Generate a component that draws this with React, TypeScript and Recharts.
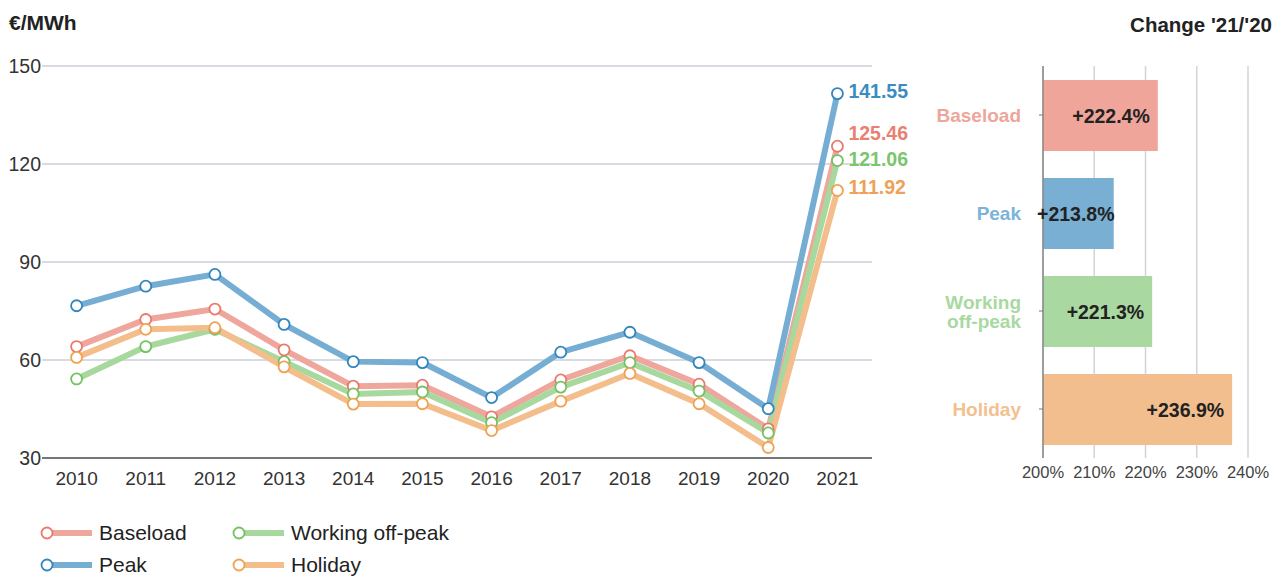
import {
  LineChart, Line, XAxis, YAxis, CartesianGrid, LabelList,
  BarChart, Bar, Cell,
} from 'recharts';

const years = ['2010', '2011', '2012', '2013', '2014', '2015', '2016', '2017', '2018', '2019', '2020', '2021'];
const baseload = [64.1, 72.4, 75.6, 63.1, 52.0, 52.3, 42.6, 53.9, 61.3, 52.6, 38.91, 125.46];
const peak = [76.6, 82.6, 86.2, 70.9, 59.5, 59.2, 48.5, 62.4, 68.5, 59.2, 45.11, 141.55];
const workingOffPeak = [54.2, 64.1, 69.4, 59.5, 49.6, 50.2, 40.8, 51.7, 59.2, 50.5, 37.68, 121.06];
const holiday = [60.8, 69.4, 69.9, 57.9, 46.5, 46.6, 38.4, 47.4, 55.9, 46.6, 33.22, 111.92];
const priceTicks = [30, 60, 90, 120, 150];
const yearBoundaries = [0, 1, 2, 3, 4, 5, 6, 7, 8, 9, 10, 11, 12];

const changeCategories = ['Baseload', 'Peak', 'Working off-peak', 'Holiday'];
const changeValues = [222.4, 213.8, 221.3, 236.9];
const changeTicks = [200, 210, 220, 230, 240];
const changeBoundaries = [0, 1, 2, 3, 4];

const FONT = '"Liberation Sans", Arial, sans-serif';

// styles per series (draw order = array order)
const series = [
  { key: 'baseload', name: 'Baseload', line: '#efa69c', dot: '#e97a6b', label: '#ea806f', bar: '#f0a59b', cat: '#eea59b', labelDy: -13 },
  { key: 'working', name: 'Working off-peak', line: '#a7d89d', dot: '#74c165', label: '#7bc66c', bar: '#a9d8a0', cat: '#a8d9a0', labelDy: -2 },
  { key: 'holiday', name: 'Holiday', line: '#f3be8c', dot: '#f0a152', label: '#f0a157', bar: '#f2be8d', cat: '#f3c08f', labelDy: -3 },
  { key: 'peak', name: 'Peak', line: '#76add3', dot: '#3286bf', label: '#3a8cc1', bar: '#78afd3', cat: '#7cb3d8', labelDy: -3 },
];
const seriesByName = (n: string) => series.find((s) => s.name === n)!;

const lineData = years.map((year, i) => ({
  year,
  baseload: baseload[i],
  peak: peak[i],
  working: workingOffPeak[i],
  holiday: holiday[i],
}));

const barData = changeCategories.map((name, i) => ({ name, value: changeValues[i] }));

const legendRows = [
  ['Baseload', 'Working off-peak'],
  ['Peak', 'Holiday'],
];

function EndLabel(props: any) {
  const { x, y, value, index, color, dy } = props;
  if (index !== years.length - 1) return null;
  return (
    <text x={x + 11} y={y + dy} dominantBaseline="central" fill={color}
      fontSize={19.5} fontWeight="bold" fontFamily={FONT}>
      {value}
    </text>
  );
}

// right-aligned inside the bar; short bars get the label pinned near the axis
function BarValueLabel(props: any) {
  const { x, y, width, height, value } = props;
  const short = width < 80;
  return (
    <text x={short ? x - 6 : x + width - 8} y={y + height / 2} textAnchor={short ? 'start' : 'end'}
      dominantBaseline="central" fill="#222" fontSize={19.5} fontWeight="bold" fontFamily={FONT}>
      {`+${Number(value).toFixed(1)}%`}
    </text>
  );
}

function CategoryTick(props: any) {
  const { x, y, payload } = props;
  const s = seriesByName(payload.value);
  const lines = payload.value === 'Working off-peak' ? ['Working', 'off-peak'] : [payload.value];
  const start = y - ((lines.length - 1) * 19) / 2;
  return (
    <text x={x} y={start} textAnchor="end" dominantBaseline="central" fill={s.cat}
      fontSize={19} fontWeight="bold" fontFamily={FONT}>
      {lines.map((l, i) => (
        <tspan key={l} x={x} y={start + i * 19}>{l}</tspan>
      ))}
    </text>
  );
}

function LegendIcon({ s }: { s: (typeof series)[number] }) {
  return (
    <svg width={58} height={16} style={{ display: 'block', flexShrink: 0 }}>
      <line x1={7} y1={8} x2={52} y2={8} stroke={s.line} strokeWidth={6} />
      <circle cx={7} cy={8} r={5.5} fill="#fff" stroke={s.dot} strokeWidth={1.8} />
    </svg>
  );
}

export default function App() {
  return (
    <div style={{ position: 'absolute', left: 0, top: 0, width: 1282, height: 578, background: '#fff', fontFamily: FONT }}>
      <div style={{ position: 'absolute', left: 9, top: 11, fontSize: 21, fontWeight: 'bold', color: '#222' }}>€/MWh</div>
      <div style={{ position: 'absolute', right: 10, top: 13, fontSize: 20.5, fontWeight: 'bold', color: '#222' }}>Change '21/'20</div>

      <div style={{ position: 'absolute', left: 0, top: 0 }}>
        <LineChart width={920} height={500} data={lineData} margin={{ top: 66, right: 48, bottom: 12, left: 0 }}>
          <CartesianGrid vertical={false} stroke="#cbcfd7" strokeWidth={1.5} />
          <XAxis xAxisId="bounds" type="number" domain={[0, 12]} ticks={yearBoundaries} height={0}
            axisLine={false} tickSize={6} tickFormatter={() => ''} stroke="#555" />
          <XAxis dataKey="year" scale="band" height={30} tickLine={false} tickSize={6} tickMargin={8}
            axisLine={{ stroke: '#555', strokeWidth: 1.5 }} interval={0}
            tick={{ fontSize: 19, fill: '#333', fontFamily: FONT }} />
          <YAxis width={42} domain={[30, 150]} ticks={priceTicks} axisLine={false} tickLine={false}
            tickSize={0} tickMargin={1} tick={{ fontSize: 19.5, fill: '#333', fontFamily: FONT }} />
          {series.map((s) => (
            <Line key={s.key} dataKey={s.key} name={s.name} stroke={s.line} strokeWidth={6}
              isAnimationActive={false}
              dot={{ r: 5.5, fill: '#fff', stroke: s.dot, strokeWidth: 1.8 }} activeDot={false}>
              <LabelList dataKey={s.key} content={(p: any) => <EndLabel {...p} color={s.label} dy={s.labelDy} />} />
            </Line>
          ))}
        </LineChart>
      </div>

      <div style={{ position: 'absolute', left: 920, top: 0 }}>
        <BarChart width={362} height={500} data={barData} layout="vertical"
          margin={{ top: 66, right: 34, bottom: 12, left: 0 }}>
          <CartesianGrid horizontal={false} stroke="#d2d3db" strokeWidth={1.5} />
          <XAxis type="number" domain={[200, 240]} ticks={changeTicks} allowDataOverflow
            axisLine={false} tickLine={false} tickFormatter={(v) => `${v}%`}
            tick={{ fontSize: 16.5, fill: '#444', fontFamily: FONT }} />
          <YAxis yAxisId="bounds" type="number" domain={[0, 4]} ticks={changeBoundaries} width={0}
            axisLine={false} tickSize={4} tickFormatter={() => ''} stroke="#777" />
          <YAxis type="category" dataKey="name" width={123} tickSize={4} tickMargin={18}
            axisLine={{ stroke: '#888', strokeWidth: 1.5 }} tickLine={{ stroke: '#777' }}
            tick={<CategoryTick />} interval={0} />
          <Bar dataKey="value" barSize={71} isAnimationActive={false}>
            {barData.map((d) => (
              <Cell key={d.name} fill={seriesByName(d.name).bar} />
            ))}
            <LabelList dataKey="value" content={<BarValueLabel />} />
          </Bar>
        </BarChart>
      </div>

      <div style={{ position: 'absolute', left: 40, top: 517 }}>
        {legendRows.map((row, ri) => (
          <div key={ri} style={{ display: 'flex', height: 32, alignItems: 'center' }}>
            {row.map((n) => (
              <div key={n} style={{ display: 'flex', alignItems: 'center', width: 192, flexShrink: 0, whiteSpace: 'nowrap' }}>
                <LegendIcon s={seriesByName(n)} />
                <span style={{ fontSize: 21, color: '#222', marginLeft: 1 }}>{n}</span>
              </div>
            ))}
          </div>
        ))}
      </div>
    </div>
  );
}
